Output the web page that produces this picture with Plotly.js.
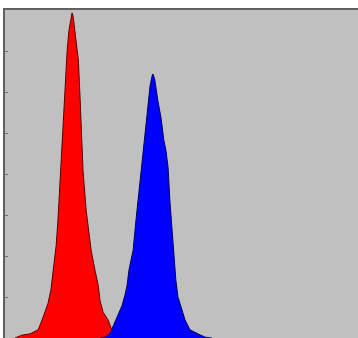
<!DOCTYPE html>
<html>
<head>
<meta charset="utf-8">
<script src="https://cdn.plot.ly/plotly-3.0.1.min.js"></script>
<style>html,body{margin:0;padding:0;background:#fff;}#chart{width:358px;height:338px;}</style>
</head>
<body>
<div id="chart"></div>
<script>
// Channel (fluorescence intensity) and event counts
var redChannel = [28,48,71,94,105,113,122,130,136,145,150,153,159,164,167,173,176,181,187,190,193,198,204,208,213,217,221,230,235,244,255,264,269,278,292,306,320,340];
var redCounts  = [0,7,10,20,44,63,85,117,165,226,287,336,433,530,579,652,700,749,785,793,785,749,713,676,579,506,409,311,275,214,165,129,92,63,44,12,2,0];

var blueChannel = [269,283,298,312,323,332,340,346,351,363,371,377,385,391,399,405,411,417,419,424,428,433,442,450,456,462,467,473,476,484,490,496,504,510,524,547,567,586];
var blueCounts  = [0,2,12,39,61,80,105,129,165,214,287,336,416,457,530,579,615,640,644,632,603,579,537,482,457,416,336,263,214,141,100,85,61,44,20,10,2,0];

var yTickStep = 100;

var traces = [
  {x: redChannel, y: redCounts, type: 'scatter', mode: 'lines', fill: 'tozeroy',
   fillcolor: '#ff0000', line: {color: '#5a0000', width: 1}, hoverinfo: 'skip'},
  {x: blueChannel, y: blueCounts, type: 'scatter', mode: 'lines', fill: 'tozeroy',
   fillcolor: '#0000ff', line: {color: '#00005a', width: 1}, hoverinfo: 'skip'}
];

var layout = {
  width: 358, height: 338,
  margin: {l: 5, r: 0, t: 10, b: 0, pad: 0},
  paper_bgcolor: '#ffffff',
  plot_bgcolor: '#c0c0c0',
  showlegend: false,
  xaxis: {range: [0, 1000], side: 'top', showline: true, linecolor: '#606060', linewidth: 2,
          showgrid: false, zeroline: false, ticks: '', showticklabels: false, fixedrange: true},
  yaxis: {range: [0, 800], showline: true, linecolor: '#606060', linewidth: 2,
          showgrid: false, zeroline: false, ticks: 'inside', ticklen: 3, tickwidth: 1,
          tickcolor: '#707070', dtick: yTickStep, tick0: 0, showticklabels: false, fixedrange: true}
};

Plotly.newPlot('chart', traces, layout, {displayModeBar: false, staticPlot: true});
</script>
</body>
</html>
